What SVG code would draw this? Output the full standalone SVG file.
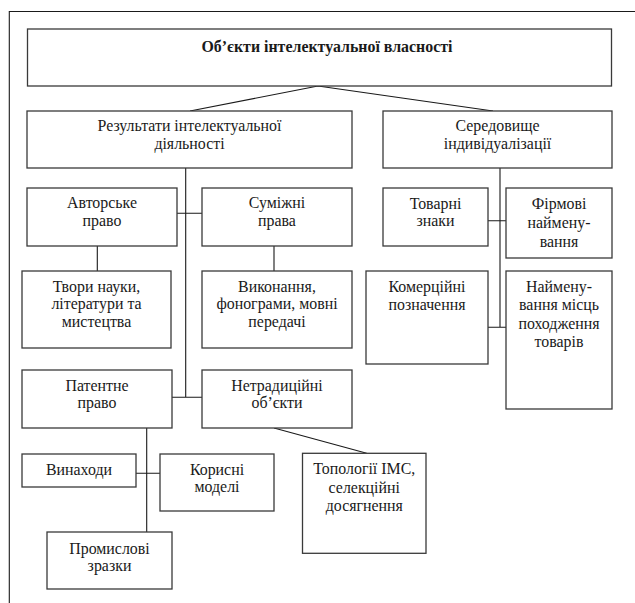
<svg xmlns="http://www.w3.org/2000/svg" width="635" height="603" viewBox="0 0 635 603">
<style>
.box{fill:#fff;stroke:#3a3a3a;stroke-width:1.3}
text{font-family:'Liberation Serif','Times New Roman',serif;font-size:15.9px;fill:#1a1a1a;text-anchor:middle}
.b{font-weight:bold}
.c{stroke:#1a1a1a;stroke-width:1.1;fill:none}
</style>
<rect width="635" height="603" fill="#fff"/>
<g id="frame"><path class="c" d="M635 11.5H9.3V603" stroke-width="1.4"/></g>
<g id="connectors">
<path class="c" d="M318 86L190 111M318 86L493 111"/>
<path class="c" d="M185.7 168V397.3M177 213.3H202M97.3 246V271M274 246V271M171.7 397.3H202M146.7 428V532M136 473.3H160M274 428L366.7 453.3"/>
<path class="c" d="M500 168V327.3M488 220.7H506M488 327.3H506"/>
</g>
<g id="n-top"><rect class="box" x="27.5" y="29" width="584" height="57"/><text class="b" x="327" y="52">Об’єкти інтелектуальної власності</text></g>
<g id="n-rez"><rect class="box" x="27" y="111" width="325" height="57"/><text x="189.5" y="130.7">Результати інтелектуальної</text><text x="189.5" y="149.2">діяльності</text></g>
<g id="n-ser"><rect class="box" x="383" y="111" width="229" height="57"/><text x="497.5" y="130.7">Середовище</text><text x="497.5" y="149.2">індивідуалізації</text></g>
<g id="n-avt"><rect class="box" x="27" y="188" width="150" height="58"/><text x="102" y="208.3">Авторське</text><text x="102" y="226">право</text></g>
<g id="n-sum"><rect class="box" x="202" y="188" width="150" height="58"/><text x="277" y="208.3">Суміжні</text><text x="277" y="226">права</text></g>
<g id="n-tvory"><rect class="box" x="22" y="271" width="149" height="77"/><text x="96.5" y="291.5">Твори науки,</text><text x="96.5" y="309">літератури та</text><text x="96.5" y="326.5">мистецтва</text></g>
<g id="n-vyk"><rect class="box" x="202" y="271" width="150" height="77"/><text x="277" y="291.5">Виконання,</text><text x="277" y="309">фонограми, мовні</text><text x="277" y="326.5">передачі</text></g>
<g id="n-pat"><rect class="box" x="22" y="370" width="150" height="58"/><text x="97" y="390.5">Патентне</text><text x="97" y="408">право</text></g>
<g id="n-netr"><rect class="box" x="202" y="370" width="150" height="58"/><text x="277" y="390.5">Нетрадиційні</text><text x="277" y="408">об’єкти</text></g>
<g id="n-vyn"><rect class="box" x="22" y="454" width="114" height="33"/><text x="79" y="474.5">Винаходи</text></g>
<g id="n-kor"><rect class="box" x="160" y="454" width="114" height="57"/><text x="217" y="474.5">Корисні</text><text x="217" y="492">моделі</text></g>
<g id="n-prom"><rect class="box" x="47" y="532" width="125" height="57"/><text x="109.5" y="553.5">Промислові</text><text x="109.5" y="571">зразки</text></g>
<g id="n-topo"><rect class="box" x="302.5" y="453.3" width="123.5" height="100"/><text x="364.3" y="474">Топології ІМС,</text><text x="364.3" y="492.5">селекційні</text><text x="364.3" y="511">досягнення</text></g>
<g id="n-tov"><rect class="box" x="383" y="188" width="105" height="58"/><text x="435.5" y="208.8">Товарні</text><text x="435.5" y="226">знаки</text></g>
<g id="n-firm"><rect class="box" x="506" y="188" width="106" height="70"/><text x="559" y="208.8">Фірмові</text><text x="559" y="227.5">наймену-</text><text x="559" y="246.5">вання</text></g>
<g id="n-kom"><rect class="box" x="366" y="271" width="122" height="93"/><text x="427" y="291.5">Комерційні</text><text x="427" y="309.5">позначення</text></g>
<g id="n-naim"><rect class="box" x="506" y="271" width="106" height="138"/><text x="559" y="291.5">Наймену-</text><text x="559" y="310">вання місць</text><text x="559" y="328.5">походження</text><text x="559" y="347">товарів</text></g>
</svg>
